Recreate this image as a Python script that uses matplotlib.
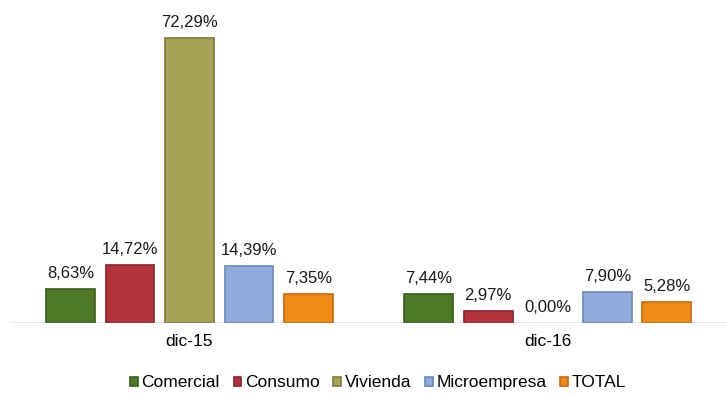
import matplotlib.pyplot as plt
import numpy as np

plt.rcParams['font.family'] = ['Liberation Sans', 'DejaVu Sans']

periods = ['dic-15', 'dic-16']
series = ['Comercial', 'Consumo', 'Vivienda', 'Microempresa', 'TOTAL']
values = [
    [8.63, 7.44],
    [14.72, 2.97],
    [72.29, 0.00],
    [14.39, 7.90],
    [7.35, 5.28],
]
colors = ['#4e7a25', '#b3343b', '#a8a257', '#8facdc', '#f18a17']
edges = ['#3a5c1a', '#8a2228', '#7f7a3c', '#6a88bb', '#c96a0a']

fig = plt.figure(figsize=(7.27, 3.94), dpi=100)
ax = fig.add_axes([0.014, 0.18, 0.986, 0.795])

x = np.arange(len(periods))
width = 0.136
step = 0.166

for i, name in enumerate(series):
    pos = x + (i - 2) * step
    lw = [1.2 if v > 0 else 0 for v in values[i]]
    ax.bar(pos, values[i], width, color=colors[i], edgecolor=edges[i],
           linewidth=lw, label=name, zorder=3)
    for p, v in zip(pos, values[i]):
        ax.text(p, v + 2.0, f'{v:.2f}%'.replace('.', ','), ha='center',
                va='bottom', fontsize=12, color='#1a1a1a')

ax.set_xlim(-0.5, 1.5)
ax.set_ylim(0, 79.4)
ax.axhline(0, color='#8c8c8c', linewidth=1.0, zorder=4)
for s in ax.spines.values():
    s.set_visible(False)
ax.set_yticks([])
ax.set_xticks(x)
ax.set_xticklabels(periods, fontsize=12.5)
ax.tick_params(axis='x', length=0, pad=8)

fig.legend(loc='center', bbox_to_anchor=(0.52, 0.028), ncol=5, frameon=False,
           fontsize=12.5, handlelength=0.45, handleheight=0.45,
           handletextpad=0.2, columnspacing=0.8)

fig.savefig('out.png', dpi=100)
